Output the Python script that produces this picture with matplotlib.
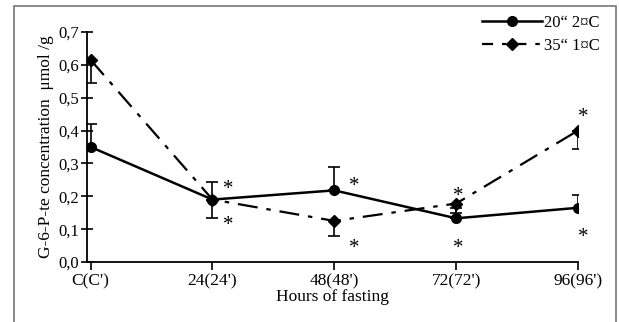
import matplotlib
matplotlib.use("Agg")
import matplotlib.pyplot as plt
from matplotlib.patches import Rectangle
from matplotlib.lines import Line2D
import numpy as np

categories = ["C(C')", "24(24')", "48(48')", "72(72')", "96(96')"]
series_a_label = "20\u201c 2\u00a4C"
series_b_label = "35\u201c 1\u00a4C"
series_a = [0.35, 0.19, 0.218, 0.133, 0.165]
series_b = [0.615, 0.19, 0.125, 0.178, 0.40]
series_a_err_up = [0.07, 0.055, 0.072, 0.03, 0.038]
series_b_err_down = [0.07, 0.055, 0.045, 0.03, 0.055]
yticks = [0.0, 0.1, 0.2, 0.3, 0.4, 0.5, 0.6, 0.7]
ytick_labels = ["0,0", "0,1", "0,2", "0,3", "0,4", "0,5", "0,6", "0,7"]
# asterisk annotations: (category index, y value)
stars = [(1, 0.22), (1, 0.11), (2, 0.23), (2, 0.04), (3, 0.2), (3, 0.04),
         (4, 0.44), (4, 0.075)]

plt.rcParams['font.family'] = ['Liberation Serif', 'DejaVu Serif']

fig = plt.figure(figsize=(6.19, 3.22), dpi=100)
ax = fig.add_axes([87/619, 1-262/322, (578-87)/619, (262-32)/322])

x = np.arange(len(categories))
dash_b = (0, (9, 4, 2, 4))

ax.errorbar(x, series_a, yerr=[np.zeros(len(x)), series_a_err_up], color='black',
            lw=1.8, marker='o', ms=7, capsize=4, elinewidth=1.2, capthick=1.2,
            zorder=3)
ax.errorbar(x, series_b, yerr=[series_b_err_down, np.zeros(len(x))], color='black',
            lw=1.6, ls=dash_b, marker='D', ms=6, capsize=4,
            elinewidth=1.2, capthick=1.2, zorder=3)

offsets = {1: 0.13, 2: 0.16, 3: 0.02, 4: 0.04}
for i, yv in stars:
    ax.text(i + offsets[i], yv, "*", ha='center', va='center', fontsize=15)

ax.set_xlim(-0.03, 4.0)
ax.set_ylim(0, 0.7)
ax.set_xticks(x)
ax.set_xticklabels(categories, fontsize=12.5)
ax.set_yticks(yticks)
ax.set_yticklabels(ytick_labels, fontsize=12)
ax.tick_params(axis='y', direction='inout', length=8, width=1.2, pad=2)
ax.tick_params(axis='x', direction='out', length=6, width=1.2, pad=2)
for s in ['top', 'right']:
    ax.spines[s].set_visible(False)
for s in ['left', 'bottom']:
    ax.spines[s].set_linewidth(1.3)
ax.set_xlabel("Hours of fasting", fontsize=12.5, labelpad=0)
ax.set_ylabel("G-6-P-te concentration  \u03bcmol /g", fontsize=12.5, labelpad=3)

handles = [Line2D([], [], color='black', lw=1.8, marker='o', ms=7),
           Line2D([], [], color='black', lw=1.6, ls=(0, (5, 4, 2, 4)), marker='D', ms=6)]
leg = ax.legend(handles, [series_a_label, series_b_label], loc='upper right',
                bbox_to_anchor=(1.075, 1.14), frameon=False,
                fontsize=12, handlelength=3.6, handletextpad=0.1,
                labelspacing=0.45)

fig.patches.append(Rectangle((14/619, -0.02), (616-14)/619, 1.0, transform=fig.transFigure,
                             fill=False, edgecolor='#777777', lw=1.2))

fig.savefig("out.png", dpi=100)
